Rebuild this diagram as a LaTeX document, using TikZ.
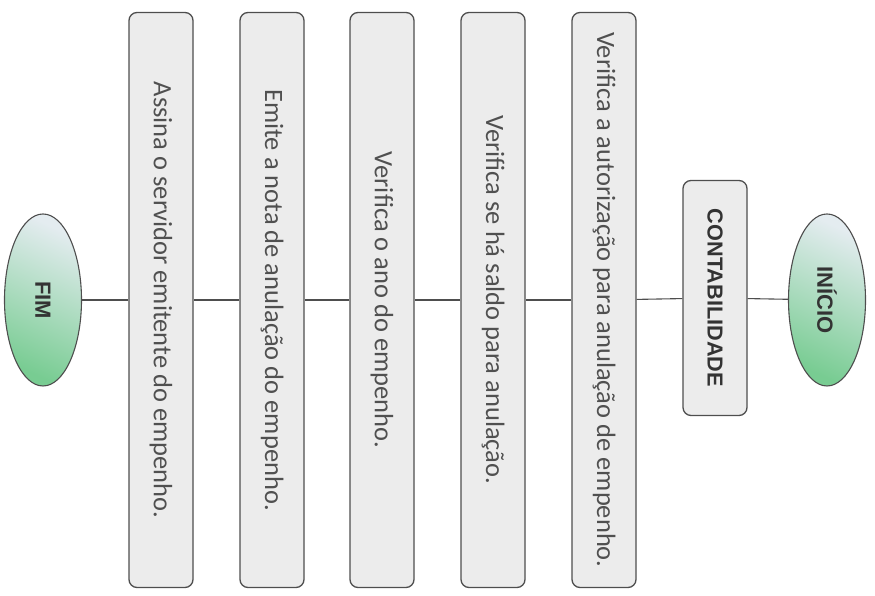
\documentclass[tikz,border=0pt]{standalone}
\usepackage{fontspec}
\setmainfont{Carlito}
\newfontfamily\headfont{Liberation Sans}
\usetikzlibrary{shapes.geometric}
\definecolor{boxgray}{RGB}{236,236,236}
\definecolor{edgegray}{RGB}{78,78,78}
\definecolor{textgray}{RGB}{80,80,80}
\definecolor{ovalgreen}{RGB}{120,204,146}
\definecolor{ovaltop}{RGB}{228,236,240}

\begin{document}
\begin{tikzpicture}[x=1pt, y=1pt,
    stepbox/.style={draw=edgegray, line width=1.3pt, rounded corners=8pt, fill=boxgray,
        minimum width=64pt, minimum height=575pt, inner sep=0pt, text=textgray,
        font=\fontsize{26.5}{30}\selectfont},
    headbox/.style={stepbox, minimum height=235pt, text=black!80,
        font=\headfont\bfseries\fontsize{21.7}{26}\selectfont},
    oval/.style={ellipse, draw=edgegray, line width=1.1pt, minimum width=77pt,
        minimum height=172pt, inner sep=0pt, top color=ovaltop, bottom color=ovalgreen,
        shading angle=-25, text=black!80, font=\headfont\bfseries\fontsize{22}{26}\selectfont},
    link/.style={draw=edgegray, line width=1.1pt}]
    \useasboundingbox (0,0) rectangle (875,596);

    % Start and end
    \node[oval] (inicio) at (827,296) {\rotatebox{-90}{INÍCIO}};
    \node[oval] (fim) at (43,296) {\rotatebox{-90}{FIM}};

    % Sector
    \node[headbox] (contab) at (715,298) {\rotatebox{-90}{CONTABILIDADE}};

    % Steps
    \node[stepbox] (autoriz) at (604,296) {\rotatebox{-90}{Verifica a autorização para anulação de empenho.}};
    \node[stepbox] (saldo) at (493,296) {\rotatebox{-90}{Verifica se há saldo para anulação.}};
    \node[stepbox] (ano) at (382,296) {\rotatebox{-90}{Verifica o ano do empenho.}};
    \node[stepbox] (nota) at (272,296) {\rotatebox{-90}{Emite a nota de anulação do empenho.}};
    \node[stepbox] (assina) at (161,296) {\rotatebox{-90}{Assina o servidor emitente do empenho.}};

    % Connectors
    \draw[link] (inicio) -- (contab);
    \draw[link] (contab) -- (autoriz);
    \draw[link] (autoriz) -- (saldo);
    \draw[link] (saldo) -- (ano);
    \draw[link] (ano) -- (nota);
    \draw[link] (nota) -- (assina);
    \draw[link] (assina) -- (fim);
\end{tikzpicture}
\end{document}
